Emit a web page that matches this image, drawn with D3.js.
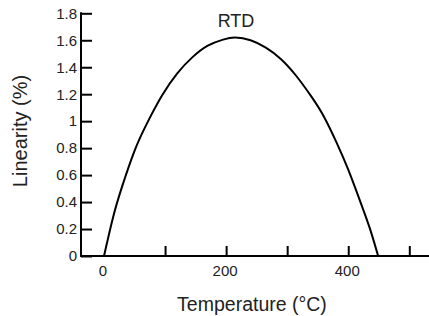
<!DOCTYPE html>
<html>
<head>
<meta charset="utf-8">
<script src="https://cdn.jsdelivr.net/npm/d3@7"></script>
<style>
  body { margin: 0; background: #fff; }
  text { font-family: "Liberation Sans", Arial, sans-serif; fill: #222; }
</style>
</head>
<body>
<div id="chart"></div>
<script>
// values
var temps = [0, 15, 30, 50, 70, 95, 120, 145, 170, 195, 215, 240, 265, 290, 315, 340, 360, 380, 400, 420, 435, 449];
var linearity = [0, 0.29, 0.52, 0.78, 0.98, 1.19, 1.355, 1.475, 1.56, 1.605, 1.62, 1.6, 1.545, 1.46, 1.335, 1.18, 1.035, 0.85, 0.64, 0.4, 0.21, 0];
var xTicks = [100, 200, 300, 400, 500];
var xLabels = [0, 200, 400];
var yTicks = [0, 0.2, 0.4, 0.6, 0.8, 1, 1.2, 1.4, 1.6, 1.8];

var w = 429, h = 316;

var x = d3.scaleLinear().domain([0, 500]).range([104, 409.3]);
var y = d3.scaleLinear().domain([0, 1.8]).range([256, 13.3]);

var svg = d3.select("#chart").append("svg")
  .attr("width", w)
  .attr("height", h);

//x axis: ticks point up, labels drawn separately
var xAxis = svg.append("g")
  .attr("transform", "translate(0," + y(0) + ")")
  .call(d3.axisBottom(x).tickValues(xTicks).tickSize(-10).tickFormat(""));
xAxis.select(".domain").remove();
xAxis.selectAll("line").attr("stroke", "#000").attr("stroke-width", 2);
svg.append("line")
  .attr("x1", 81).attr("x2", w)
  .attr("y1", y(0)).attr("y2", y(0))
  .attr("stroke", "#000").attr("stroke-width", 2);

svg.selectAll(".xlab")
  .data(xLabels)
  .enter()
  .append("text")
  .attr("class", "xlab")
  .attr("x", function (d) { return x(d) - 1; })
  .attr("y", 276)
  .attr("text-anchor", "middle")
  .attr("font-size", 15)
  .text(function (d) { return d; });

//y axis: ticks point inside
var yAxis = svg.append("g")
  .attr("transform", "translate(81,0)")
  .call(d3.axisLeft(y).tickValues(yTicks).tickSize(-11).tickPadding(4)
    .tickFormat(function (d) { return d3.format("~g")(d); }));
yAxis.select(".domain").remove();
yAxis.selectAll("line").attr("stroke", "#000").attr("stroke-width", 2);
yAxis.selectAll("text").attr("font-size", 15).attr("fill", "#222")
  .attr("font-family", "Liberation Sans, Arial, sans-serif");
svg.append("line")
  .attr("x1", 81).attr("x2", 81)
  .attr("y1", y(1.8) - 1).attr("y2", y(0) + 1)
  .attr("stroke", "#000").attr("stroke-width", 2);

//curve
var line = d3.line()
  .x(function (d, i) { return x(temps[i]); })
  .y(function (d) { return y(d); })
  .curve(d3.curveNatural);

svg.append("path")
  .datum(linearity)
  .attr("d", line)
  .attr("fill", "none")
  .attr("stroke", "#000")
  .attr("stroke-width", 2);

//titles
svg.append("text")
  .attr("x", 236)
  .attr("y", 27)
  .attr("text-anchor", "middle")
  .attr("font-size", 18)
  .text("RTD");

svg.append("text")
  .attr("x", 252)
  .attr("y", 311)
  .attr("text-anchor", "middle")
  .attr("font-size", 19.5)
  .text("Temperature (°C)");

svg.append("text")
  .attr("transform", "translate(27,131) rotate(-90)")
  .attr("text-anchor", "middle")
  .attr("font-size", 20)
  .text("Linearity (%)");
</script>
</body>
</html>
